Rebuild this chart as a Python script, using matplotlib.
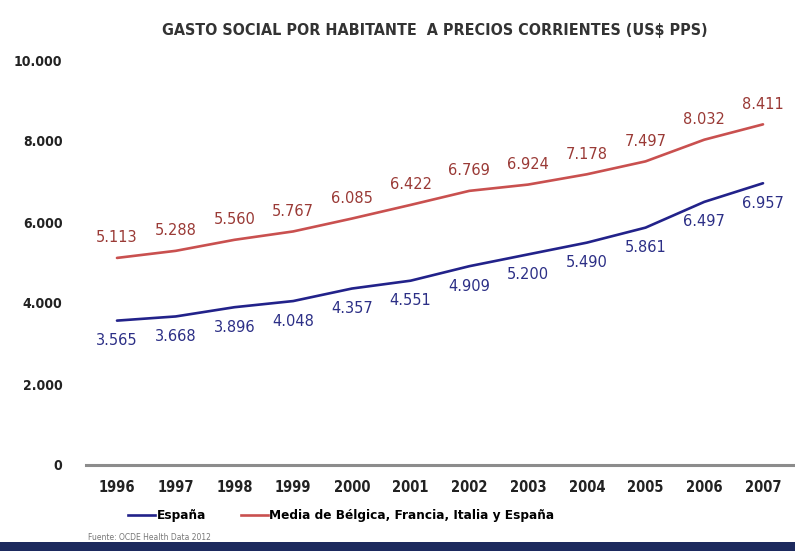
import matplotlib
matplotlib.use("Agg")
import matplotlib.pyplot as plt
from matplotlib.lines import Line2D
from matplotlib.patches import Rectangle

years = [1996, 1997, 1998, 1999, 2000, 2001, 2002, 2003, 2004, 2005, 2006, 2007]
espana = [3565, 3668, 3896, 4048, 4357, 4551, 4909, 5200, 5490, 5861, 6497, 6957]
media = [5113, 5288, 5560, 5767, 6085, 6422, 6769, 6924, 7178, 7497, 8032, 8411]
y_ticks = [0, 2000, 4000, 6000, 8000, 10000]

title = "GASTO SOCIAL POR HABITANTE  A PRECIOS CORRIENTES (US$ PPS)"
label_espana = "España"
label_media = "Media de Bélgica, Francia, Italia y España"
source = "Fuente: OCDE Health Data 2012"

blue = "#22228a"
red = "#c9504f"
blue_txt = "#2c2f86"
red_txt = "#9a3a36"
# narrow bold text (the original uses Calibri)
bold_narrow = dict(fontfamily="DejaVu Sans", fontstretch="condensed", fontweight="bold")


def fmt(v):
    # thousands with a dot, spanish style
    return f"{v:,}".replace(",", ".")


W, H = 795, 551
fig = plt.figure(figsize=(W / 100, H / 100), dpi=100)
left, right, bottom, top = 86, 795, 465, 60
ax = fig.add_axes([left / W, 1 - bottom / H, (right - left) / W, (bottom - top) / H])

px_year = (763 - 117) / 11
ax.set_xlim(1996 - (117 - left) / px_year, 2007 + (right - 763) / px_year)
ax.set_ylim(0, 10000)

ax.plot(years, media, color=red, lw=1.9, solid_capstyle="round", clip_on=False)
ax.plot(years, espana, color=blue, lw=1.9, solid_capstyle="round", clip_on=False)

for x, v in zip(years, media):
    ax.annotate(fmt(v), (x, v), xytext=(0, 20), textcoords="offset pixels",
                ha="center", va="center", fontsize=10.5, color=red_txt)
for x, v in zip(years, espana):
    ax.annotate(fmt(v), (x, v), xytext=(0, -20), textcoords="offset pixels",
                ha="center", va="center", fontsize=10.5, color=blue_txt)

for s in ["top", "right", "left"]:
    ax.spines[s].set_visible(False)
ax.spines["bottom"].set_color("#8c8c8c")
ax.spines["bottom"].set_linewidth(2.2)

ax.set_yticks(y_ticks)
ax.set_yticklabels([fmt(v) for v in y_ticks], fontsize=10, color="#222222", **bold_narrow)
ax.tick_params(axis="y", length=0, pad=17)
ax.set_xticks(years)
ax.set_xticklabels([str(y) for y in years], fontsize=10.5, color="#222222", **bold_narrow)
ax.tick_params(axis="x", length=0, pad=11)

fig.text(435 / W, 1 - 30 / H, title, ha="center", va="center",
         fontsize=11.5, color="#333333", **bold_narrow)

handles = [Line2D([0], [0], color=blue, lw=1.9), Line2D([0], [0], color=red, lw=1.9)]
fig.legend(handles, [label_espana, label_media], loc="center left",
           bbox_to_anchor=(116 / W, 1 - 516 / H), ncol=2, frameon=False,
           handlelength=2.0, handletextpad=0.1, columnspacing=2.6,
           prop={"family": "DejaVu Sans", "stretch": "condensed", "weight": "bold", "size": 9.7})

fig.text(88 / W, 1 - 537 / H, source, ha="left", va="center", fontsize=5.5, color="#777777")

fig.patches.append(Rectangle((0, 0), 1, 9 / H, transform=fig.transFigure,
                             facecolor="#1d2a5e", edgecolor="none"))

fig.savefig("out.png", dpi=100)
